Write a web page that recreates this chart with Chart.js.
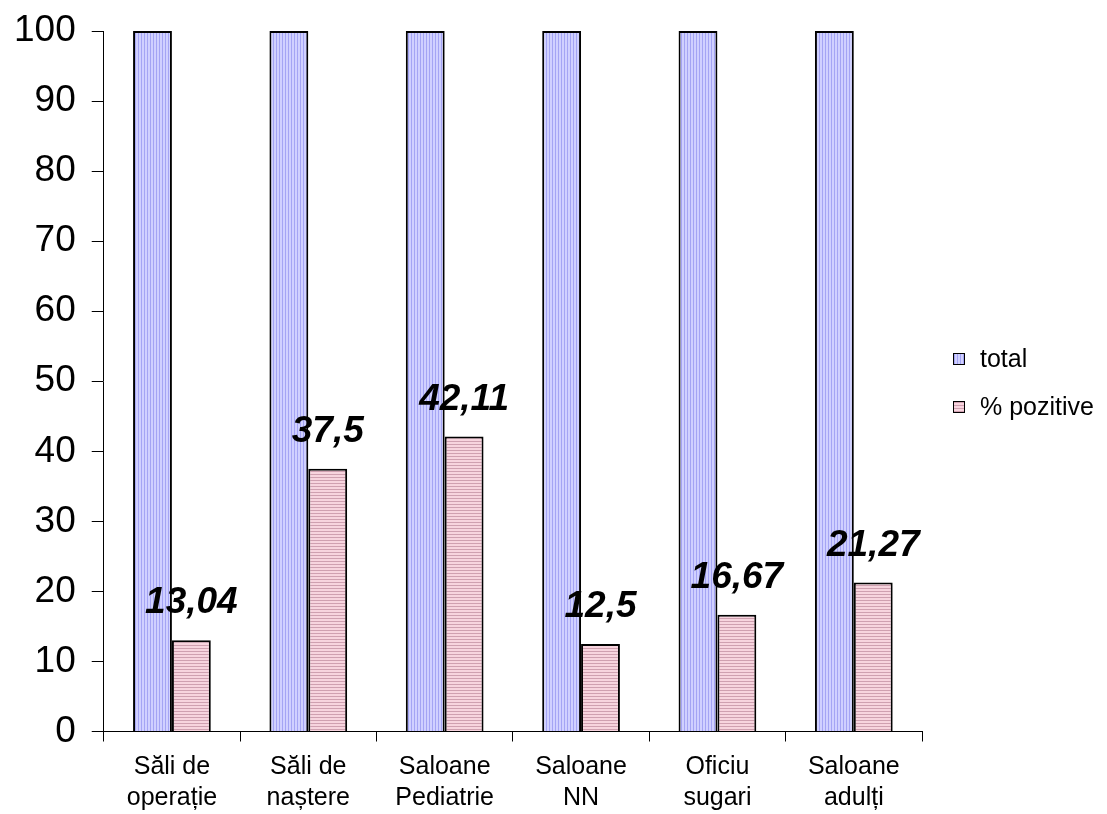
<!DOCTYPE html>
<html>
<head>
<meta charset="utf-8">
<script src="https://cdn.jsdelivr.net/npm/chart.js@4"></script>
<style>
  html, body { margin: 0; padding: 0; background: #fff; }
  #wrap { width: 1107px; height: 814px; }
</style>
</head>
<body>
<div id="wrap"><canvas id="probeChart" width="1107" height="814"></canvas></div>
<script>
// Categorii si valori
const categories = [
    ['Săli de', 'operație'],
    ['Săli de', 'naștere'],
    ['Saloane', 'Pediatrie'],
    ['Saloane', 'NN'],
    ['Oficiu', 'sugari'],
    ['Saloane', 'adulți']
];
const totalValues = [100, 100, 100, 100, 100, 100];
const positiveValues = [13.04, 37.5, 42.11, 12.5, 16.67, 21.27];
const seriesNames = ['total', '% pozitive'];

const FONT = "'Liberation Sans', Arial, sans-serif";

// hasura: dungi verticale albastre / dungi orizontale roz
function stripes(bg, fg, vertical) {
    const c = document.createElement('canvas');
    c.width = 3; c.height = 3;
    const g = c.getContext('2d');
    g.fillStyle = bg;
    g.fillRect(0, 0, 3, 3);
    g.fillStyle = fg;
    if (vertical) g.fillRect(0, 0, 1, 3);
    else g.fillRect(0, 0, 3, 1);
    return g.createPattern(c, 'repeat');
}
const bluePattern = stripes('#d0d0ff', '#a4a4f4', true);
const pinkPattern = stripes('#f7d4de', '#cfa0b0', false);
const fills = [bluePattern, pinkPattern];

// etichete cu valoarea deasupra barelor roz
const valueLabels = {
    id: 'valueLabels',
    afterDatasetsDraw(chart) {
        const ctx = chart.ctx;
        const meta = chart.getDatasetMeta(1);
        ctx.save();
        ctx.font = "italic bold 37px " + FONT;
        ctx.fillStyle = '#000';
        ctx.textAlign = 'center';
        ctx.textBaseline = 'alphabetic';
        meta.data.forEach((bar, i) => {
            const txt = String(positiveValues[i]).replace('.', ',');
            ctx.fillText(txt, bar.x, bar.y - 27);
        });
        ctx.restore();
    }
};

// legenda din dreapta
const sideLegend = {
    id: 'sideLegend',
    afterDraw(chart) {
        const ctx = chart.ctx;
        ctx.save();
        ctx.font = "25px " + FONT;
        ctx.textBaseline = 'middle';
        seriesNames.forEach((name, i) => {
            const y = 359 + i * 48;
            ctx.fillStyle = fills[i];
            ctx.fillRect(953, y - 6, 12, 12);
            ctx.strokeStyle = '#000';
            ctx.lineWidth = 1;
            ctx.strokeRect(953.5, y - 5.5, 11, 11);
            ctx.fillStyle = '#000';
            ctx.fillText(name, 980, y + 1);
        });
        ctx.restore();
    }
};

const ctx = document.getElementById('probeChart').getContext('2d');
new Chart(ctx, {
    type: 'bar',
    data: {
        labels: categories,
        datasets: [{
            label: seriesNames[0],
            data: totalValues,
            backgroundColor: bluePattern,
            borderColor: '#000',
            borderWidth: 2,
            borderSkipped: 'bottom',
            categoryPercentage: 0.57,
            barPercentage: 1.0
        }, {
            label: seriesNames[1],
            data: positiveValues,
            backgroundColor: pinkPattern,
            borderColor: '#000',
            borderWidth: 2,
            borderSkipped: 'bottom',
            categoryPercentage: 0.57,
            barPercentage: 1.0
        }]
    },
    options: {
        responsive: false,
        animation: false,
        layout: { padding: { top: 31, left: -2, right: 185, bottom: -10 } },
        plugins: {
            legend: { display: false },
            tooltip: { enabled: false }
        },
        scales: {
            y: {
                min: 0,
                max: 100,
                ticks: {
                    stepSize: 10,
                    color: '#000',
                    font: { family: FONT, size: 37, lineHeight: 0.8 },
                    padding: 16
                },
                grid: { drawOnChartArea: false, color: '#000', tickLength: 12 },
                border: { color: '#000', width: 1 }
            },
            x: {
                ticks: {
                    color: '#000',
                    font: { family: FONT, size: 25, lineHeight: 1.25 },
                    padding: 10,
                    maxRotation: 0
                },
                grid: { drawOnChartArea: false, color: '#000', tickLength: 10, offset: true },
                border: { color: '#000', width: 1 }
            }
        }
    },
    plugins: [valueLabels, sideLegend]
});
</script>
</body>
</html>
